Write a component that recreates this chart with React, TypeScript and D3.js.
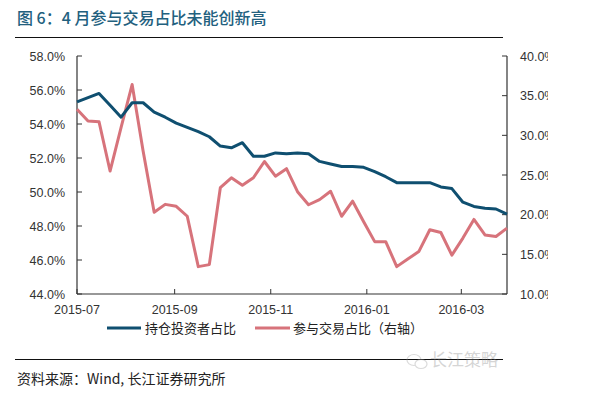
import React from "react";
import * as d3 from "d3";

// weekly observation dates
const dates = [
  "2015-07-01", "2015-07-08", "2015-07-15", "2015-07-22", "2015-07-29",
  "2015-08-05", "2015-08-12", "2015-08-19", "2015-08-26", "2015-09-02",
  "2015-09-09", "2015-09-16", "2015-09-23", "2015-09-30", "2015-10-07",
  "2015-10-14", "2015-10-21", "2015-10-28", "2015-11-04", "2015-11-11",
  "2015-11-18", "2015-11-25", "2015-12-02", "2015-12-09", "2015-12-16",
  "2015-12-23", "2015-12-30", "2016-01-06", "2016-01-13", "2016-01-20",
  "2016-01-27", "2016-02-03", "2016-02-10", "2016-02-17", "2016-02-24",
  "2016-03-02", "2016-03-09", "2016-03-16", "2016-03-23", "2016-03-30",
];

// 持仓投资者占比 (left axis, %)
const holding = [
  55.3, 55.55, 55.8, 55.1, 54.4, 55.25, 55.25, 54.7, 54.4, 54.05,
  53.8, 53.55, 53.25, 52.7, 52.6, 52.9, 52.1, 52.1, 52.3, 52.25,
  52.3, 52.25, 51.8, 51.65, 51.5, 51.5, 51.45, 51.2, 50.9, 50.55,
  50.55, 50.55, 50.55, 50.3, 50.2, 49.4, 49.15, 49.05, 49.0, 48.7,
];

// 参与交易占比 (right axis, %)
const trading = [
  33.3, 31.8, 31.7, 25.5, 31.0, 36.4, 28.0, 20.3, 21.3, 21.05,
  19.8, 13.45, 13.7, 23.4, 24.65, 23.7, 24.65, 26.7, 24.85, 25.8,
  22.9, 21.25, 21.9, 22.95, 19.8, 21.7, 19.1, 16.6, 16.6, 13.45,
  14.4, 15.35, 18.1, 17.75, 14.9, 17.05, 19.4, 17.45, 17.25, 18.3,
];

const leftTicks = [44, 46, 48, 50, 52, 54, 56, 58];
const rightTicks = [10, 15, 20, 25, 30, 35, 40];

const title = "图 6：4 月参与交易占比未能创新高";
const legendNames = ["持仓投资者占比", "参与交易占比（右轴）"];
const source = "资料来源：Wind, 长江证券研究所";

const BLUE = "#0f4f70";
const RED = "#d7737b";
const FONT = "'Liberation Sans', Arial, 'Noto Sans CJK SC', sans-serif";
const CJK = "'Noto Sans CJK SC', 'Liberation Sans', sans-serif";

export default function App() {
  const W = 600;
  const H = 393;
  const left = 77;
  const right = 507;
  const top = 56;
  const bottom = 294;

  const parse = d3.timeParse("%Y-%m-%d");
  const ds = dates.map((d) => parse(d) as Date);

  const x = d3.scaleTime().domain([ds[0], ds[ds.length - 1]]).range([left, right]);
  const yL = d3.scaleLinear().domain([44, 58]).range([bottom, top]);
  const yR = d3.scaleLinear().domain([10, 40]).range([bottom, top]);

  const xTicks = x.ticks(d3.timeMonth.every(2) as d3.TimeInterval);
  const fmt = d3.timeFormat("%Y-%m");

  const lineL = d3
    .line<number>()
    .x((_, i) => x(ds[i]))
    .y((d) => yL(d));
  const lineR = d3
    .line<number>()
    .x((_, i) => x(ds[i]))
    .y((d) => yR(d));

  return (
    <svg
      width={W}
      height={H}
      style={{ position: "absolute", left: 0, top: 0, background: "#fff" }}
    >
      <defs>
        <clipPath id="rclip">
          <rect x={0} y={0} width={548} height={H} />
        </clipPath>
      </defs>
      <rect width={W} height={H} fill="#fff" />

      {/* title */}
      <text x={17} y={24} fontFamily={CJK} fontSize={16} fill="#22607e" fontWeight={500}>
        {title}
      </text>
      <line x1={15} x2={503} y1={37.5} y2={37.5} stroke="#111" strokeWidth={1} />

      {/* left axis */}
      <line x1={left} x2={left} y1={top} y2={bottom} stroke="#333" strokeWidth={1.2} />
      {leftTicks.map((t) => (
        <g key={"l" + t}>
          <line x1={left} x2={left + 5} y1={yL(t)} y2={yL(t)} stroke="#333" />
          <text
            x={65}
            y={yL(t) + 4.5}
            textAnchor="end"
            fontFamily={FONT}
            fontSize={12.5}
            fill="#333"
          >
            {t.toFixed(1) + "%"}
          </text>
        </g>
      ))}

      {/* right axis */}
      <line x1={right} x2={right} y1={top} y2={bottom} stroke="#333" strokeWidth={1.2} />
      <g clipPath="url(#rclip)">
        {rightTicks.map((t) => (
          <g key={"r" + t}>
            <line x1={right - 5} x2={right} y1={yR(t)} y2={yR(t)} stroke="#333" />
            <text x={520} y={yR(t) + 4.5} fontFamily={FONT} fontSize={12.5} fill="#333">
              {t.toFixed(1) + "%"}
            </text>
          </g>
        ))}
      </g>

      {/* bottom axis */}
      <line x1={left} x2={right} y1={bottom} y2={bottom} stroke="#333" strokeWidth={1.2} />
      {xTicks.map((t) => (
        <g key={fmt(t)}>
          <line x1={x(t)} x2={x(t)} y1={bottom} y2={bottom - 5} stroke="#333" />
          <text
            x={x(t)}
            y={314}
            textAnchor="middle"
            fontFamily={FONT}
            fontSize={12.5}
            fill="#333"
          >
            {fmt(t)}
          </text>
        </g>
      ))}

      {/* series */}
      <path d={lineR(trading) ?? ""} fill="none" stroke={RED} strokeWidth={3} strokeLinejoin="round" />
      <path d={lineL(holding) ?? ""} fill="none" stroke={BLUE} strokeWidth={3} strokeLinejoin="round" />

      {/* legend */}
      <line x1={107} x2={141} y1={328} y2={328} stroke={BLUE} strokeWidth={3} />
      <text x={145} y={333} fontFamily={CJK} fontSize={13} fill="#222">
        {legendNames[0]}
      </text>
      <line x1={255} x2={290} y1={328} y2={328} stroke={RED} strokeWidth={3} />
      <text x={293} y={333} fontFamily={CJK} fontSize={13} fill="#222">
        {legendNames[1]}
      </text>

      {/* footer */}
      <line x1={15} x2={503} y1={359.5} y2={359.5} stroke="#111" strokeWidth={1} />
      <text x={17} y={384} fontFamily={CJK} fontSize={14} fill="#222">
        {source}
      </text>
      <g opacity={0.35}>
        <ellipse cx={414} cy={360} rx={7} ry={5.5} fill="none" stroke="#999" strokeWidth={1.2} />
        <ellipse cx={421} cy={364} rx={6} ry={4.5} fill="#fff" stroke="#999" strokeWidth={1.2} />
        <text x={430} y={366} fontFamily={CJK} fontSize={17} fill="#888">
          长江策略
        </text>
      </g>
    </svg>
  );
}
